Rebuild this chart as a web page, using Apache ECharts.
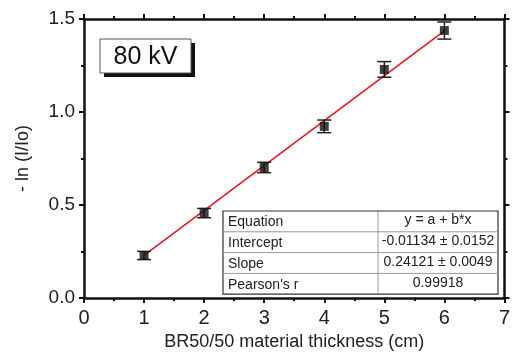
<!DOCTYPE html>
<html><head><meta charset="utf-8">
<script src="https://cdn.jsdelivr.net/npm/echarts@6/dist/echarts.min.js"></script>
<style>html,body{margin:0;padding:0;background:#fff}#c{width:513px;height:356px}</style>
</head><body><div id="c"></div>
<script>
const thickness = [1, 2, 3, 4, 5, 6];
const lnValues = [0.229, 0.457, 0.702, 0.923, 1.229, 1.438];
const lnErrors = [0.022, 0.025, 0.028, 0.034, 0.042, 0.046];
const fitX = [1, 6];
const fitY = [0.230, 1.436];
const xTicks = [0, 1, 2, 3, 4, 5, 6, 7];
const yTicks = [0.0, 0.5, 1.0, 1.5];
const tableRows = [
  ['Equation', 'y = a + b*x'],
  ['Intercept', '-0.01134 \u00b1 0.0152'],
  ['Slope', '0.24121 \u00b1 0.0049'],
  ["Pearson's r", '0.99918']
];
const panelLabel = '80 kV';
const xTitle = 'BR50/50 material thickness (cm)';
const yTitle = '- ln (I/Io)';

const FONT = 'Liberation Sans, Arial, sans-serif';
const chart = echarts.init(document.getElementById('c'), null, {renderer: 'canvas'});

const axisLine = {show: true, onZero: false, lineStyle: {color: '#111', width: 2.5}};
function xAxisCfg(pos, labels) {
  return {
    type: 'value', position: pos, min: xTicks[0], max: xTicks[xTicks.length - 1], interval: 1,
    axisLine: axisLine,
    axisTick: {show: true, inside: false, length: 5, lineStyle: {color: '#111', width: 2}},
    minorTick: {show: true, splitNumber: 2, length: 3, lineStyle: {color: '#111', width: 2}},
    axisLabel: {show: labels, fontSize: 20, color: '#222', fontFamily: FONT, margin: 10},
    splitLine: {show: false}, minorSplitLine: {show: false},
    name: labels ? xTitle : '', nameLocation: 'middle', nameGap: 30,
    nameTextStyle: {fontSize: 18, color: '#222', fontFamily: FONT}
  };
}
function yAxisCfg(pos, labels) {
  return {
    type: 'value', position: pos, min: yTicks[0], max: yTicks[yTicks.length - 1], interval: 0.5,
    axisLine: axisLine,
    axisTick: {show: true, inside: false, length: 5, lineStyle: {color: '#111', width: 2}},
    minorTick: {show: true, splitNumber: 2, length: 3, lineStyle: {color: '#111', width: 2}},
    axisLabel: {show: labels, fontSize: 19, color: '#222', fontFamily: FONT, margin: 9,
      formatter: v => v.toFixed(1)},
    splitLine: {show: false}, minorSplitLine: {show: false},
    name: labels ? yTitle : '', nameLocation: 'middle', nameGap: 52,
    nameTextStyle: {fontSize: 18, color: '#222', fontFamily: FONT}
  };
}

// table graphic
const tL = 223, tT = 211, tW = 275, rowH = 20.8, colX = 155;
const tableEls = [];
tableEls.push({type: 'rect', shape: {x: tL, y: tT, width: tW, height: rowH * 4},
  style: {fill: '#fff', stroke: '#333', lineWidth: 1.2}, z: 10});
for (let i = 1; i < 4; i++) {
  tableEls.push({type: 'line', shape: {x1: tL, y1: tT + rowH * i, x2: tL + tW, y2: tT + rowH * i},
    style: {stroke: '#999', lineWidth: 1}, z: 11});
}
tableEls.push({type: 'line', shape: {x1: tL + colX, y1: tT, x2: tL + colX, y2: tT + rowH * 4},
  style: {stroke: '#999', lineWidth: 1}, z: 11});
tableRows.forEach((r, i) => {
  tableEls.push({type: 'text', x: tL + 5, y: tT + rowH * i + rowH / 2 + 1,
    style: {text: r[0], font: '14px ' + FONT, fill: '#222', textAlign: 'left', textVerticalAlign: 'middle'}, z: 12});
  tableEls.push({type: 'text', x: tL + colX + (tW - colX) / 2, y: tT + rowH * i + rowH / 2 - 1,
    style: {text: r[1], font: '14px ' + FONT, fill: '#222', textAlign: 'center', textVerticalAlign: 'middle'}, z: 12});
});

const option = {
  animation: false,
  backgroundColor: '#fff',
  grid: {left: 84, right: 7, top: 19, bottom: 54, containLabel: false},
  xAxis: [xAxisCfg('bottom', true), xAxisCfg('top', false)],
  yAxis: [yAxisCfg('left', true), yAxisCfg('right', false)],
  graphic: [
    {type: 'rect', shape: {x: 104, y: 43, width: 91, height: 34}, style: {fill: '#111'}, z: 10},
    {type: 'rect', shape: {x: 100, y: 39, width: 91, height: 34}, style: {fill: '#fff', stroke: '#555', lineWidth: 1}, z: 11},
    {type: 'text', x: 145.5, y: 57, style: {text: panelLabel, font: '25px ' + FONT, fill: '#111',
      textAlign: 'center', textVerticalAlign: 'middle'}, z: 12}
  ].concat(tableEls),
  series: [
    {
      type: 'line', data: fitX.map((x, i) => [x, fitY[i]]), symbol: 'none',
      lineStyle: {color: '#e8141c', width: 1.5}, z: 3
    },
    {
      type: 'custom', z: 4,
      data: thickness.map((x, i) => [x, lnValues[i] - lnErrors[i], lnValues[i] + lnErrors[i]]),
      renderItem: (params, api) => {
        const lo = api.coord([api.value(0), api.value(1)]);
        const hi = api.coord([api.value(0), api.value(2)]);
        const hw = 7;
        const st = {stroke: '#222', lineWidth: 1.5};
        return {type: 'group', children: [
          {type: 'line', shape: {x1: lo[0], y1: lo[1], x2: hi[0], y2: hi[1]}, style: st},
          {type: 'line', shape: {x1: lo[0] - hw, y1: lo[1], x2: lo[0] + hw, y2: lo[1]}, style: st},
          {type: 'line', shape: {x1: hi[0] - hw, y1: hi[1], x2: hi[0] + hw, y2: hi[1]}, style: st}
        ]};
      }
    },
    {
      type: 'scatter', data: thickness.map((x, i) => [x, lnValues[i]]),
      symbol: 'rect', symbolSize: 9, itemStyle: {color: '#111'}, z: 5
    }
  ]
};
chart.setOption(option);
</script></body></html>
